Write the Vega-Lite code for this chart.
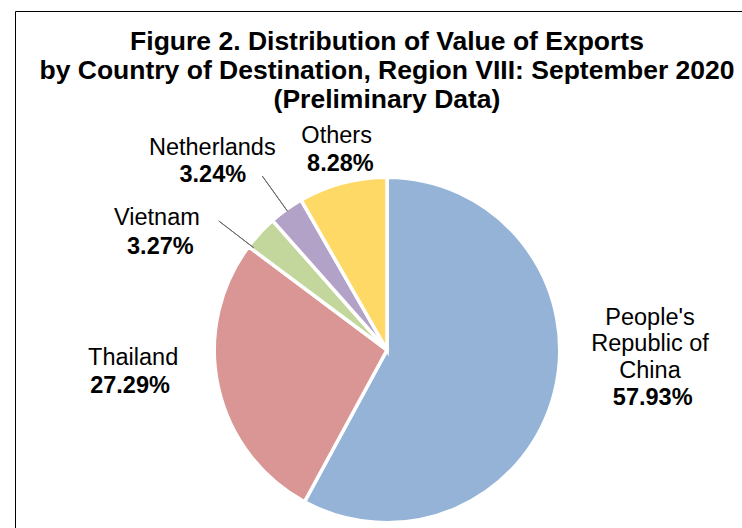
{
  "$schema": "https://vega.github.io/schema/vega-lite/v6.json",
  "autosize": "none",
  "padding": {"left": 15, "top": 11, "right": 0, "bottom": 0},
  "width": 744,
  "height": 678,
  "background": "#ffffff",
  "view": {"stroke": "#000000", "strokeWidth": 1, "fill": "#ffffff"},
  "config": {
    "view": {"stroke": "#000000", "strokeWidth": 1},
    "text": {"font": "Liberation Sans", "fontSize": 23.5, "color": "#000000", "align": "center", "baseline": "middle"}
  },
  "title": {
    "text": ["Figure 2. Distribution of Value of Exports", "by Country of Destination, Region VIII: September 2020", "(Preliminary Data)"],
    "font": "Liberation Sans",
    "fontSize": 26.5,
    "fontWeight": "bold",
    "lineHeight": 29,
    "color": "#000000",
    "anchor": "middle",
    "offset": -102
  },
  "data": {
    "values": [
      {"country": "People's Republic of China", "label": "People's\nRepublic of\nChina", "pct": "57.93%", "value": 57.93, "rank": 1},
      {"country": "Thailand", "label": "Thailand", "pct": "27.29%", "value": 27.29, "rank": 2},
      {"country": "Vietnam", "label": "Vietnam", "pct": "3.27%", "value": 3.27, "rank": 3},
      {"country": "Netherlands", "label": "Netherlands", "pct": "3.24%", "value": 3.24, "rank": 4},
      {"country": "Others", "label": "Others", "pct": "8.28%", "value": 8.28, "rank": 5}
    ]
  },
  "encoding": {
    "theta": {"field": "value", "type": "quantitative", "stack": true},
    "order": {"field": "rank", "type": "quantitative"}
  },
  "layer": [
    {
      "mark": {"type": "arc", "outerRadius": 172.75, "stroke": "#ffffff", "strokeWidth": 3.5},
      "encoding": {
        "color": {
          "field": "country",
          "type": "nominal",
          "scale": {
            "domain": ["People's Republic of China", "Thailand", "Vietnam", "Netherlands", "Others"],
            "range": ["#95B3D7", "#D99694", "#C3D69B", "#B3A2C7", "#FFD966"]
          },
          "legend": null
        }
      }
    },
    {
      "mark": {"type": "arc", "radius": 214, "radius2": 171, "padAngle": 2, "fillOpacity": 0, "stroke": "#6b6b6b", "strokeWidth": 1},
      "encoding": {
        "strokeOpacity": {"condition": {"test": "datum.country === 'Netherlands'", "value": 1}, "value": 0}
      }
    },
    {
      "mark": {"type": "arc", "radius": 212, "radius2": 168, "padAngle": 2, "thetaOffset": -0.09, "fillOpacity": 0, "stroke": "#6b6b6b", "strokeWidth": 1},
      "encoding": {
        "strokeOpacity": {"condition": {"test": "datum.country === 'Vietnam'", "value": 1}, "value": 0}
      }
    },
    {
      "mark": {"type": "text", "radius": 265, "thetaOffset": -0.3718, "lineBreak": "\n", "lineHeight": 26.5},
      "encoding": {"text": {"condition": {"test": "datum.rank === 1", "field": "label"}, "value": ""}}
    },
    {
      "mark": {"type": "text", "radius": 270, "thetaOffset": -0.0703, "fontWeight": "bold"},
      "encoding": {"text": {"condition": {"test": "datum.rank === 1", "field": "pct"}, "value": ""}}
    },
    {
      "mark": {"type": "text", "radius": 254, "thetaOffset": 0.1829},
      "encoding": {"text": {"condition": {"test": "datum.rank === 2", "field": "label"}, "value": ""}}
    },
    {
      "mark": {"type": "text", "radius": 259.5, "thetaOffset": 0.0764, "fontWeight": "bold"},
      "encoding": {"text": {"condition": {"test": "datum.rank === 2", "field": "pct"}, "value": ""}}
    },
    {
      "mark": {"type": "text", "radius": 265, "thetaOffset": -0.225},
      "encoding": {"text": {"condition": {"test": "datum.rank === 3", "field": "label"}, "value": ""}}
    },
    {
      "mark": {"type": "text", "radius": 249, "thetaOffset": -0.3173, "fontWeight": "bold"},
      "encoding": {"text": {"condition": {"test": "datum.rank === 3", "field": "pct"}, "value": ""}}
    },
    {
      "mark": {"type": "text", "radius": 267, "thetaOffset": -0.0911},
      "encoding": {"text": {"condition": {"test": "datum.rank === 4", "field": "label"}, "value": ""}}
    },
    {
      "mark": {"type": "text", "radius": 247, "thetaOffset": -0.1606, "fontWeight": "bold"},
      "encoding": {"text": {"condition": {"test": "datum.rank === 4", "field": "pct"}, "value": ""}}
    },
    {
      "mark": {"type": "text", "radius": 220, "thetaOffset": 0.0291},
      "encoding": {"text": {"condition": {"test": "datum.rank === 5", "field": "label"}, "value": ""}}
    },
    {
      "mark": {"type": "text", "radius": 192, "thetaOffset": 0.015, "fontWeight": "bold"},
      "encoding": {"text": {"condition": {"test": "datum.rank === 5", "field": "pct"}, "value": ""}}
    }
  ]
}
